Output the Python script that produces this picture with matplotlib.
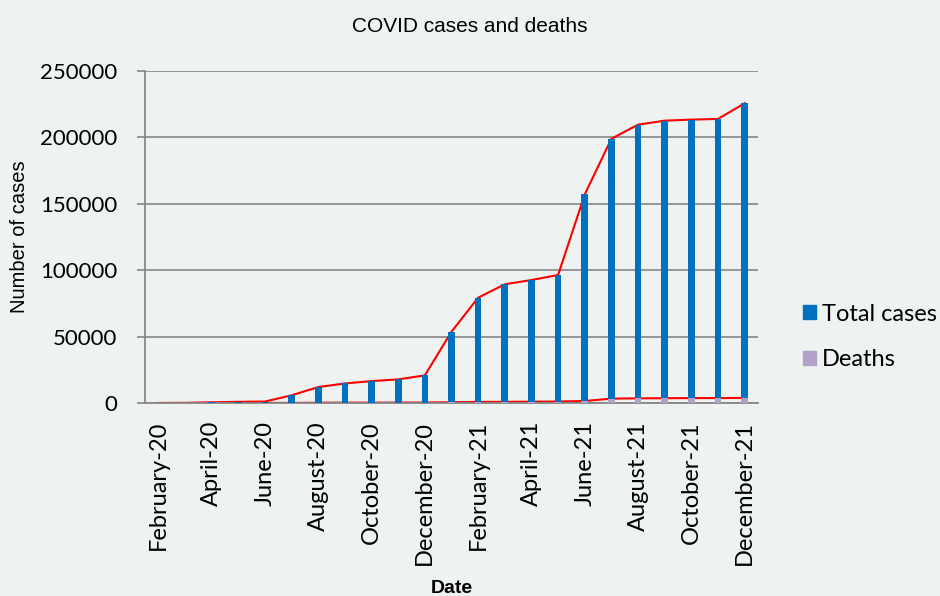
import matplotlib
matplotlib.use("Agg")
import matplotlib.pyplot as plt
from matplotlib.patches import Patch
import numpy as np

# Monthly cumulative figures
months = ["February-20", "March-20", "April-20", "May-20", "June-20", "July-20",
          "August-20", "September-20", "October-20", "November-20", "December-20",
          "January-21", "February-21", "March-21", "April-21", "May-21", "June-21",
          "July-21", "August-21", "September-21", "October-21", "November-21",
          "December-21"]
total_cases = [10, 100, 500, 900, 1100, 5800, 12000, 14700, 16500, 17800, 20800,
               53700, 79300, 89400, 92600, 96400, 157100, 199000, 209600, 212600,
               213400, 213900, 225700]
deaths = [0, 5, 20, 30, 40, 100, 200, 250, 280, 300, 350,
          600, 800, 900, 1000, 1100, 1500, 3300, 3500, 3600, 3700, 3700, 3800]
y_ticks = [0, 50000, 100000, 150000, 200000, 250000]

BG = "#EEF2F1"
GRID = "#878787"
BLUE = "#0070C0"
PURPLE = "#B3A2C7"
RED = "#FF0000"

fig = plt.figure(figsize=(9.4, 5.96), dpi=100, facecolor=BG)
ax = fig.add_axes([145 / 940, 1 - 403 / 596, (758 - 145) / 940, (403 - 71) / 596])
ax.set_facecolor(BG)

x = np.arange(len(months))
bw = 0.25

# connecting lines sit behind the bars
ax.plot(x, total_cases, color=RED, lw=1.5, zorder=2)
ax.plot(x, deaths, color=RED, lw=1.5, zorder=2)
ax.bar(x, total_cases, width=bw, color=BLUE, zorder=3)
ax.bar(x, deaths, width=bw, color=PURPLE, zorder=4)

ax.set_xlim(-0.5, len(months) - 0.5)
ax.set_ylim(0, 250000)
ax.set_yticks(y_ticks)
ax.set_yticklabels([str(v) for v in y_ticks], family="Lato", fontsize=16)
ax.set_xticks(x[::2])
ax.set_xticklabels(months[::2], rotation=90, family="Lato", fontsize=17)

ax.grid(axis="y", color=GRID, lw=1.2, zorder=0)
ax.set_axisbelow(True)
for s in ["top", "right"]:
    ax.spines[s].set_visible(False)
for s in ["left", "bottom"]:
    ax.spines[s].set_color(GRID)
    ax.spines[s].set_linewidth(1.3)
ax.tick_params(axis="y", length=6, width=1.2, color=GRID, pad=14)
ax.tick_params(axis="x", length=0, pad=13)

ax.set_ylabel("Number of cases", family="Liberation Sans", fontsize=14.5, labelpad=8)
ax.set_xlabel("Date", family="Liberation Sans", fontsize=14, fontweight="bold", labelpad=11)
fig.text(470 / 940, 1 - 26 / 596, "COVID cases and deaths", family="Liberation Sans",
         fontsize=15, ha="center", va="center")

handles = [Patch(color=BLUE, label="Total cases"), Patch(color=PURPLE, label="Deaths")]
fig.legend(handles=handles, loc="center left", bbox_to_anchor=(803 / 940, 1 - 337 / 596),
           frameon=False, prop={"family": "Lato", "size": 17}, handlelength=0.55,
           handleheight=0.55, handletextpad=0.25, labelspacing=1.05, borderpad=0,
           borderaxespad=0)

fig.savefig("out.png", dpi=100, facecolor=BG)
